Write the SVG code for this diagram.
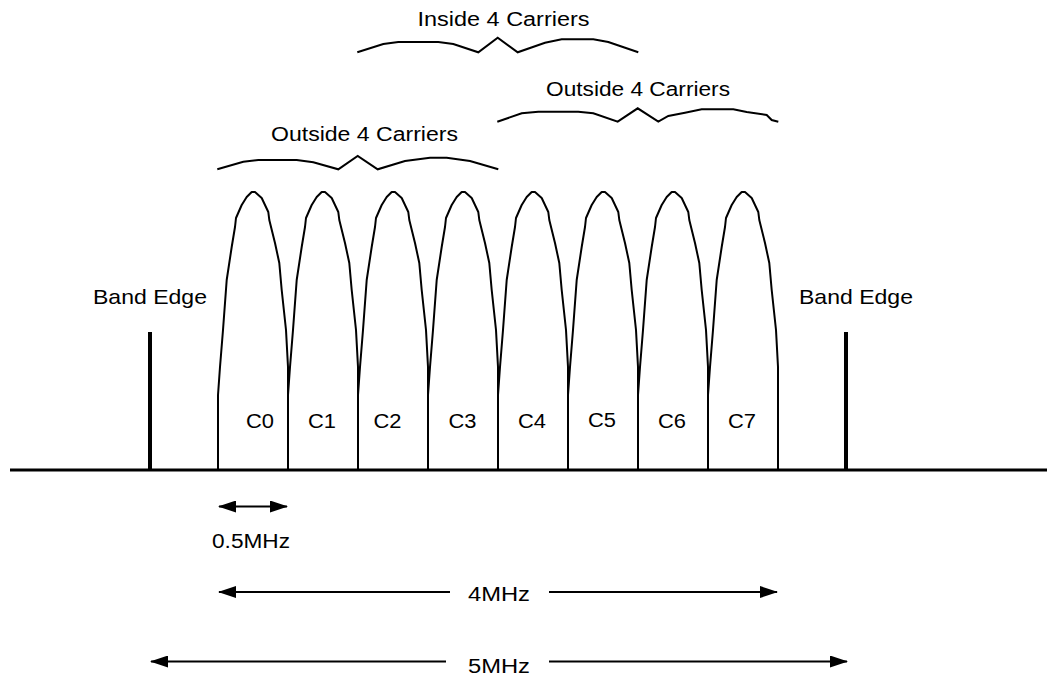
<svg xmlns="http://www.w3.org/2000/svg" xmlns:xlink="http://www.w3.org/1999/xlink" width="1047" height="679" viewBox="0 0 1047 679">
<style>
  text { font-family: "Liberation Sans", Arial, sans-serif; font-size: 20px; fill: #000; }
  .mid { text-anchor: middle; }
  .curve { fill: none; stroke: #000; stroke-width: 2; stroke-linejoin: round; stroke-linecap: round; }
  .brace { fill: none; stroke: #000; stroke-width: 2; stroke-linejoin: miter; }
  .dim { fill: none; stroke: #000; stroke-width: 2; }
  .edge { stroke: #000; stroke-width: 4; }
  .base { stroke: #000; stroke-width: 3; }
</style>
<defs>
  <path id="carrier" class="curve" d="M0,470 L0,395 L2,367 L5,330 L8.7,280 L13.7,247 L17,227 L18,218 L23.7,205 L28.7,197 L33.7,192 L37,192 L43.7,198 L50.3,212 L51.3,220 L57,243 L61.3,263 L63.7,290 L68,330 L70,367 L70,395 L70,470"/>
  <marker id="ah" markerUnits="userSpaceOnUse" markerWidth="18" markerHeight="12" viewBox="0 0 18 12" refX="17" refY="6" orient="auto-start-reverse">
    <path d="M0,0 L18,6 L0,12 z" fill="#000"/>
  </marker>
</defs>
<rect width="1047" height="679" fill="#fff"/>

<g id="axis">
  <line class="base" x1="10" y1="470" x2="1047" y2="470"/>
</g>

<g id="band-edge-left">
  <line class="edge" x1="150" y1="332" x2="150" y2="470"/>
  <text class="mid" x="150" y="304" style="font-size:21px" textLength="114" lengthAdjust="spacingAndGlyphs">Band Edge</text>
</g>
<g id="band-edge-right">
  <line class="edge" x1="846" y1="332" x2="846" y2="470"/>
  <text class="mid" x="856" y="304" style="font-size:21px" textLength="114" lengthAdjust="spacingAndGlyphs">Band Edge</text>
</g>

<g id="c0"><use xlink:href="#carrier" href="#carrier" transform="translate(218,0)"/><text class="mid" x="260" y="428" textLength="28" lengthAdjust="spacingAndGlyphs">C0</text></g>
<g id="c1"><use xlink:href="#carrier" href="#carrier" transform="translate(288,0)"/><text class="mid" x="322" y="428" textLength="28" lengthAdjust="spacingAndGlyphs">C1</text></g>
<g id="c2"><use xlink:href="#carrier" href="#carrier" transform="translate(358,0)"/><text class="mid" x="387.5" y="428" textLength="28" lengthAdjust="spacingAndGlyphs">C2</text></g>
<g id="c3"><use xlink:href="#carrier" href="#carrier" transform="translate(428,0)"/><text class="mid" x="462.5" y="428" textLength="28" lengthAdjust="spacingAndGlyphs">C3</text></g>
<g id="c4"><use xlink:href="#carrier" href="#carrier" transform="translate(498,0)"/><text class="mid" x="532" y="428" textLength="28" lengthAdjust="spacingAndGlyphs">C4</text></g>
<g id="c5"><use xlink:href="#carrier" href="#carrier" transform="translate(568,0)"/><text class="mid" x="602" y="427" textLength="28" lengthAdjust="spacingAndGlyphs">C5</text></g>
<g id="c6"><use xlink:href="#carrier" href="#carrier" transform="translate(638,0)"/><text class="mid" x="672" y="428" textLength="28" lengthAdjust="spacingAndGlyphs">C6</text></g>
<g id="c7"><use xlink:href="#carrier" href="#carrier" transform="translate(708,0)"/><text class="mid" x="742" y="428" textLength="28" lengthAdjust="spacingAndGlyphs">C7</text></g>

<g id="inside-4-carriers">
  <text class="mid" x="503.5" y="26" textLength="172" lengthAdjust="spacingAndGlyphs">Inside 4 Carriers</text>
  <polyline class="brace" points="357.3,52.3 383.3,44 398.3,42 438.3,42 453.3,44 478.3,52.3 497.7,37.7 517.7,52.3 545,42.7 561.7,39.3 593.3,39.3 608.3,42 638.3,52.3"/>
</g>
<g id="outside-4-carriers-right">
  <text class="mid" x="638" y="96" textLength="184" lengthAdjust="spacingAndGlyphs">Outside 4 Carriers</text>
  <polyline class="brace" points="497.3,121.7 521.7,113.3 538.3,111.7 578.3,111.7 593.3,113.3 617.7,121.7 637.7,108.3 658.3,121.7 668.3,116 685,112.7 701.7,109.3 733.3,109.3 746.7,112 766.7,115 771.7,120 778.3,121.7"/>
</g>
<g id="outside-4-carriers-left">
  <text class="mid" x="364.5" y="141" textLength="187" lengthAdjust="spacingAndGlyphs">Outside 4 Carriers</text>
  <polyline class="brace" points="217.3,169.3 243.3,161.7 258.3,160 296.7,160 313.3,162.3 338.3,169.3 357.7,156 377.7,169.3 405,161 430,157.7 446.7,157.7 470,161 498.3,169.3"/>
</g>

<g id="connectors">
  <line class="dim" x1="219" y1="506.5" x2="287" y2="506.5" marker-start="url(#ah)" marker-end="url(#ah)"/>
  <line class="dim" x1="219" y1="592" x2="450" y2="592" marker-start="url(#ah)"/>
  <line class="dim" x1="549" y1="592" x2="777" y2="592" marker-end="url(#ah)"/>
  <line class="dim" x1="151" y1="661.5" x2="446" y2="661.5" marker-start="url(#ah)"/>
  <line class="dim" x1="549" y1="661.5" x2="847" y2="661.5" marker-end="url(#ah)"/>
</g>
<g id="dimension-labels">
  <text class="mid" x="251" y="548" textLength="78" lengthAdjust="spacingAndGlyphs">0.5MHz</text>
  <text class="mid" x="499" y="601" textLength="62" lengthAdjust="spacingAndGlyphs">4MHz</text>
  <text class="mid" x="499" y="673" textLength="62" lengthAdjust="spacingAndGlyphs">5MHz</text>
</g>
</svg>
